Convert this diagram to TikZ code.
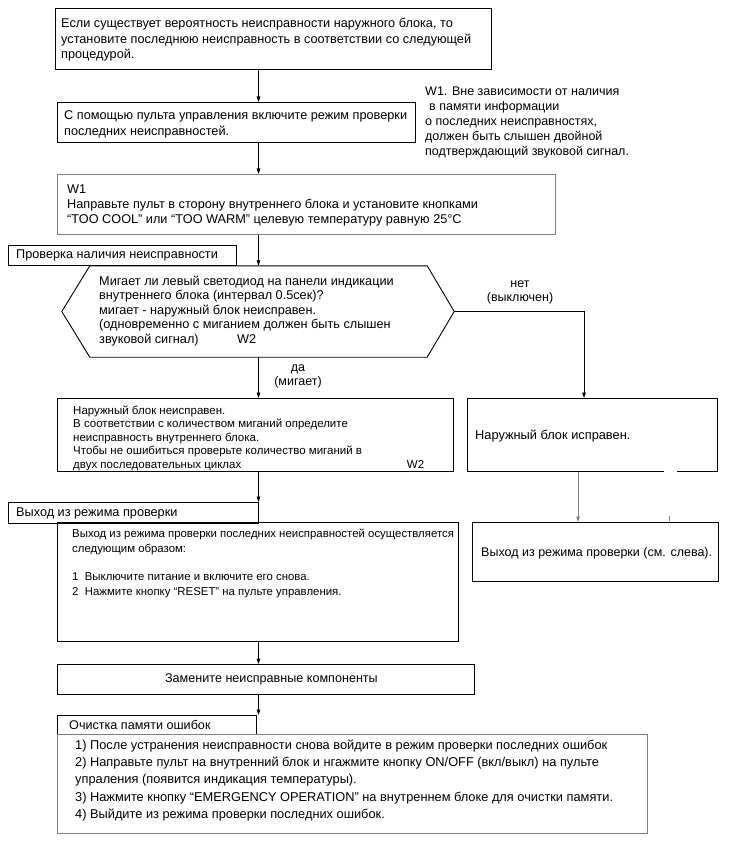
\documentclass[tikz,border=0pt]{standalone}
\usepackage{fontspec}
\setmainfont{Liberation Sans}
\usetikzlibrary{arrows.meta,calc}
\newcommand\fsz[2]{\fontsize{#1}{#2}\selectfont}
\definecolor{lgray}{gray}{0.5}
\begin{document}
\begin{tikzpicture}[x=1pt,y=-1pt,
  bx/.style={draw=black, line width=0.9pt, anchor=north west, inner sep=0pt},
  gbx/.style={bx, draw=lgray},
  txt/.style={inner sep=0pt, align=left, anchor=west},
  arr/.style={-{Triangle[length=5.5pt,width=3.6pt]}, line width=0.8pt}]
\useasboundingbox (0,0) rectangle (730,850);
\fill[white] (0,0) rectangle (730,850);

\coordinate (ax) at (258.5,0);
\coordinate (rx) at (584,0);
\coordinate (rx2) at (578,0);

% boxes
\node[bx, minimum width=436pt, minimum height=61pt] (b1) at (55,8) {};
\node[bx, minimum width=358pt, minimum height=40pt] (b2) at (57,102) {};
\node[gbx, minimum width=498pt, minimum height=60pt] (b3) at (57,174) {};
\node[bx, minimum width=228pt, minimum height=20pt] (l1) at (8,245) {};
\node[minimum width=392pt, minimum height=91pt, inner sep=0pt] (hex) at (258,311.5) {};
\draw[line width=0.9pt] (hex.west) -- ($(hex.north west)+(28,0)$) -- ($(hex.north east)+(-27,0)$) -- (hex.east) -- ($(hex.south east)+(-27,0)$) -- ($(hex.south west)+(28,0)$) -- cycle;
\node[bx, minimum width=396pt, minimum height=73pt] (b4) at (57,398) {};
\node[bx, draw=none, minimum width=250pt, minimum height=73pt] (rb1) at (467,398) {};
\draw[line width=0.9pt] ($(rb1.south west)+(197,0)$) -- (rb1.south west) -- (rb1.north west) -- (rb1.north east) -- (rb1.south east) -- ($(rb1.south east)+(-41,0)$);
\node[bx, minimum width=250pt, minimum height=21pt] (l2) at (8,502) {};
\node[bx, minimum width=401pt, minimum height=119pt] (b5) at (57,522) {};
\node[bx, minimum width=246pt, minimum height=59pt] (rb2) at (472,522) {};
\node[bx, minimum width=417pt, minimum height=30pt] (b6) at (57,664) {};
\node[bx, minimum width=199pt, minimum height=19pt] (l3) at (57,715) {};
\node[gbx, minimum width=590pt, minimum height=99pt] (b7) at (57,734) {};

% texts
\node[txt, font=\fsz{12.7}{15.5}] (t1) at ($(b1.west)+(6,1)$) {Если существует вероятность неисправности наружного блока, то\\установите последнюю неисправность в соответствии со следующей\\процедурой.};
\node[txt, font=\fsz{12.7}{16}] (t2) at ($(b2.west)+(7,2)$) {С помощью пульта управления включите режим проверки\\последних неисправностей.};
\node[txt, font=\fsz{12.7}{15}] (t3) at ($(b3.west)+(10,1)$) {W1\\Направьте пульт в сторону внутреннего блока и установите кнопками\\“TOO COOL” или “TOO WARM” целевую температуру равную 25°C};
\node[txt, font=\fsz{12.5}{15}] (w1) at (425,122) {W1. Вне зависимости от наличия\\\hspace*{4pt}в памяти информации\\о последних неисправностях,\\должен быть слышен двойной\\подтверждающий звуковой сигнал.};
\node[txt, font=\fsz{12.7}{15}] (tl1) at ($(l1.west)+(8,0)$) {Проверка наличия неисправности};
\node[txt, font=\fsz{12.7}{14.5}] (th) at (99,311) {Мигает ли левый светодиод на панели индикации\\внутреннего блока (интервал 0.5сек)?\\мигает - наружный блок неисправен.\\(одновременно с миганием должен быть слышен\\\makebox[157pt][l]{звуковой сигнал)\hfill W2}};
\node[inner sep=0pt, align=center, font=\fsz{12.5}{14}] (no) at (520,292) {нет\\(выключен)};
\node[inner sep=0pt, align=center, font=\fsz{12.5}{14}] (yes) at (298,376) {да\\(мигает)};
\node[txt, font=\fsz{11.5}{13.5}] (t4) at ($(b4.west)+(16,3)$) {Наружный блок неисправен.\\В соответствии с количеством миганий определите\\неисправность внутреннего блока.\\Чтобы не ошибиться проверьте количество миганий в\\\makebox[351pt][l]{двух последовательных циклах\hfill W2}};
\node[txt, font=\fsz{12.8}{15}] (tr1) at ($(rb1.west)+(8,1)$) {Наружный блок исправен.};
\node[txt, font=\fsz{12.7}{15}] (tl2) at ($(l2.west)+(8,0)$) {Выход из режима проверки};
\node[txt, font=\fsz{11.4}{14.3}] (t5) at (72,563.5) {Выход из режима проверки последних неисправностей осуществляется\\следующим образом:\\ \\1\ \ Выключите питание и включите его снова.\\2\ \ Нажмите кнопку “RESET” на пульте управления.};
\node[txt, font=\fsz{12.5}{15}] (tr2) at ($(rb2.west)+(9,1.5)$) {Выход из режима проверки (см. слева).};
\node[inner sep=0pt, font=\fsz{12.6}{15}] (t6) at ($(b6.center)+(5.5,0)$) {Замените неисправные компоненты};
\node[txt, font=\fsz{12.6}{15}] (tl3) at ($(l3.west)+(12,0)$) {Очистка памяти ошибок};
\node[txt, font=\fsz{12.8}{17.2}] (t7) at (75,780.5) {1) После устранения неисправности снова войдите в режим проверки последних ошибок\\2) Направьте пульт на внутренний блок и нгажмите кнопку ON/OFF (вкл/выкл) на пульте\\упраления (появится индикация температуры).\\3) Нажмите кнопку “EMERGENCY OPERATION” на внутреннем блоке для очистки памяти.\\4) Выйдите из режима проверки последних ошибок.};

% connectors
\draw[arr] (b1.south -| ax) -- (b2.north -| ax);
\draw[arr] (b2.south -| ax) -- (b3.north -| ax);
\draw[arr] (b3.south -| ax) -- (hex.north -| ax);
\draw[arr] (hex.south -| ax) -- (b4.north -| ax);
\draw[arr] (hex.east) -| (rb1.north -| rx);
\draw[arr] (b4.south -| ax) -- (l2.north -| ax);
\draw[arr, color=lgray] (rb1.south -| rx2) -- (rb2.north -| rx2);
\draw[arr] (b5.south -| ax) -- (b6.north -| ax);
\draw[arr] (b6.south -| ax) -- (l3.north -| ax);
\draw[lgray, line width=0.6pt] (669,516) -- (669,521);
\end{tikzpicture}
\end{document}
